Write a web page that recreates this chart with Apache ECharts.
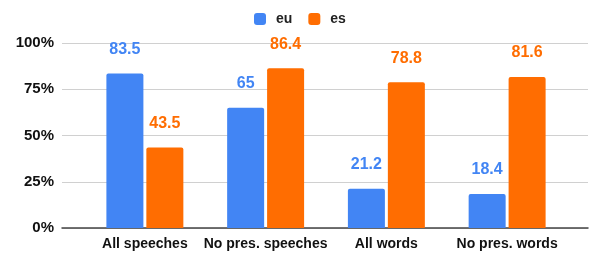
<!DOCTYPE html>
<html>
<head>
<meta charset="utf-8">
<script src="https://cdn.jsdelivr.net/npm/echarts@6/dist/echarts.min.js"></script>
<style>
    html, body { margin: 0; padding: 0; background: #fff; }
    #chart { width: 590px; height: 255px; }
</style>
</head>
<body>
<div id="chart"></div>
<script>
var categories = ['All speeches', 'No pres. speeches', 'All words', 'No pres. words'];
var eu_values = [83.5, 65, 21.2, 18.4];
var es_values = [43.5, 86.4, 78.8, 81.6];
var y_ticks = [0, 25, 50, 75, 100];

var eu_color = '#4285F4';
var es_color = '#FF6D01';
var font = '"Liberation Sans", Arial, sans-serif';

var chart = echarts.init(document.getElementById('chart'));

function barLabel(color) {
    return {
        show: true,
        position: 'top',
        distance: 16,
        color: color,
        fontFamily: font,
        fontWeight: 'bold',
        fontSize: 16
    };
}

var option = {
    animation: false,
    legend: {
        top: 7,
        left: 249,
        itemWidth: 12,
        itemHeight: 12,
        itemGap: 16,
        icon: 'roundRect',
        textStyle: {
            fontFamily: font, fontSize: 14, fontWeight: 'bold', color: '#222',
            padding: [0, 0, 0, 5]
        },
        data: ['eu', 'es']
    },
    grid: [
        /* gridlines and y labels span the full width */
        { left: 62, right: 2, top: 43, bottom: 27 },
        /* bars sit in a narrower band */
        { left: 84.5, right: 22.5, top: 43, bottom: 27 }
    ],
    xAxis: [
        {
            gridIndex: 0,
            type: 'value',
            min: 0,
            max: 1,
            axisLabel: { show: false },
            axisTick: { show: false },
            splitLine: { show: false },
            axisLine: { show: true, lineStyle: { color: '#444', width: 1.5 } }
        },
        {
            gridIndex: 1,
            type: 'category',
            data: categories,
            axisLine: { show: false },
            axisTick: { show: false },
            axisLabel: {
                margin: 9,
                color: '#111',
                fontFamily: font,
                fontWeight: 'bold',
                fontSize: 14,
                interval: 0
            }
        }
    ],
    yAxis: [
        {
            gridIndex: 0,
            type: 'value',
            min: y_ticks[0],
            max: y_ticks[y_ticks.length - 1],
            interval: 25,
            axisLine: { show: false },
            axisTick: { show: false },
            axisLabel: {
                formatter: '{value}%',
                margin: 8,
                color: '#111',
                fontFamily: font,
                fontWeight: 'bold',
                fontSize: 15
            },
            splitLine: { lineStyle: { color: '#d0d0d0', width: 1 } }
        },
        {
            gridIndex: 1,
            type: 'value',
            min: 0,
            max: 100,
            show: false,
            splitLine: { show: false }
        }
    ],
    series: [
        {
            name: 'eu',
            type: 'bar',
            xAxisIndex: 1,
            yAxisIndex: 1,
            data: eu_values,
            barWidth: 37,
            barGap: '8%',
            itemStyle: { color: eu_color, borderRadius: [2, 2, 0, 0] },
            label: barLabel(eu_color)
        },
        {
            name: 'es',
            type: 'bar',
            xAxisIndex: 1,
            yAxisIndex: 1,
            data: es_values,
            barWidth: 37,
            barGap: '8%',
            itemStyle: { color: es_color, borderRadius: [2, 2, 0, 0] },
            label: barLabel(es_color)
        }
    ]
};
chart.setOption(option);

window.addEventListener('resize', function () {
    chart.resize();
});
</script>
</body>
</html>
